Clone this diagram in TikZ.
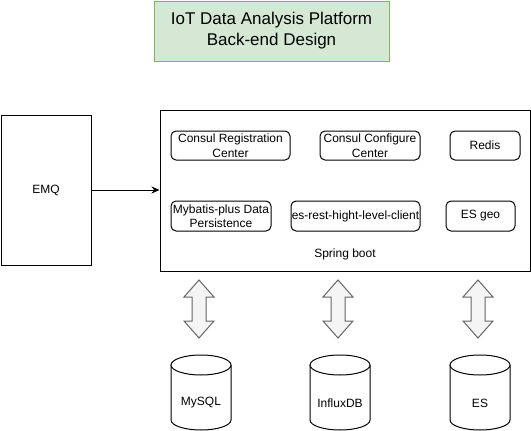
\documentclass[tikz,border=0pt]{standalone}
\usepackage{fontspec}
\setmainfont{Liberation Sans}
\usetikzlibrary{arrows.meta}
\definecolor{titlefill}{HTML}{D5E8D4}
\definecolor{titledraw}{HTML}{82B366}
\definecolor{arrowfill}{HTML}{F5F5F5}
\definecolor{arrowdraw}{HTML}{666666}
\begin{document}
\begin{tikzpicture}[x=1pt,y=-1pt,line width=1pt,
  titlebox/.style={draw=titledraw,fill=titlefill,minimum width=235pt,minimum height=60pt,align=center,
    font=\fontsize{17}{21}\selectfont},
  plainbox/.style={draw,inner sep=0pt,align=center,font=\fontsize{12}{14.5}\selectfont},
  innerbox/.style={draw,rounded corners=5pt,inner sep=0pt,align=center,font=\fontsize{12}{14.5}\selectfont},
  lbl/.style={inner sep=0pt,font=\fontsize{12}{14.5}\selectfont},
  dbl/.style={draw=arrowdraw,fill=arrowfill,line width=1pt,line join=miter},
  cyl/.style={draw,fill=white,line width=1pt},
  conn/.style={draw,line width=1pt,-{Stealth[length=8pt,width=7pt]}}]
\useasboundingbox (0,0) rectangle (531,431);

\node[titlebox] (title) at (271.5,31) {IoT Data Analysis Platform\\Back-end Design};

\node[plainbox,minimum width=90pt,minimum height=150pt] (emq) at (46,190) {EMQ};
\node[plainbox,minimum width=370pt,minimum height=161pt] (spring) at (345,190.5) {};
\node[lbl] (springlbl) at (345,254) {Spring boot};

\node[innerbox,minimum width=119pt,minimum height=29pt] (crc) at (230.5,145.5) {Consul Registration\\Center};
\node[innerbox,minimum width=100pt,minimum height=29pt] (ccc) at (370,145.5) {Consul Configure\\Center};
\node[innerbox,minimum width=70pt,minimum height=29pt] (redis) at (485,145.5) {Redis};
\node[innerbox,minimum width=100pt,minimum height=30pt] (mybatis) at (221,216) {Mybatis-plus Data\\Persistence};
\node[innerbox,minimum width=129pt,minimum height=30pt] (esrest) at (355.5,216) {es-rest-hight-level-client};
\node[innerbox,minimum width=69pt,minimum height=30pt] (esgeo) at (480.5,216) {ES geo};

\draw[conn] (emq.east) -- (spring.west |- emq.east);

% double arrows
\foreach \c in {199,338,478}{
  \draw[dbl] (\c,280) -- (\c+15,297) -- (\c+7,297) -- (\c+7,321) -- (\c+15,321) -- (\c,338)
    -- (\c-15,321) -- (\c-7,321) -- (\c-7,297) -- (\c-15,297) -- cycle;
}

% cylinders
\foreach \c/\n/\t in {201/mysql/MySQL,340/influx/InfluxDB,480/es/ES}{
  \fill[white] (\c-30,365) rectangle (\c+30,420);
  \draw[cyl] (\c-30,365) -- (\c-30,420)
    .. controls (\c-30,425.52) and (\c-16.57,430) .. (\c,430)
    .. controls (\c+16.57,430) and (\c+30,425.52) .. (\c+30,420) -- (\c+30,365);
  \draw[cyl] (\c,365) ellipse [x radius=30pt, y radius=10pt];
  \node[lbl] (\n) at (\c,403) {\t};
}
\end{tikzpicture}
\end{document}
